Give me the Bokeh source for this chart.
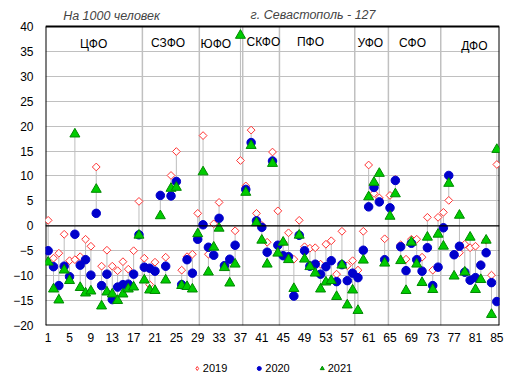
from bokeh.plotting import figure
from bokeh.layouts import column
from bokeh.models import Range1d, FixedTicker, Span, Label, Legend, LegendItem, ColumnDataSource
from bokeh.embed import file_html
from bokeh.resources import INLINE
import numpy as np

# ---- data ----
region_no = list(range(1, 86))
v2019 = [1.1, -6.5, -5.5, -1.7, -7.0, -6.8, -6.2, -2.7, -4.1, 11.8,
         -8.1, -4.9, -8.1, -9.0, -7.2, -8.7, -5.0, 4.9, -6.5, -11.8,
         -7.3, 6.2, -6.3, 10.1, 14.9, -8.9, -6.2, -5.7, 2.5, 18.1,
         -5.7, 0.4, 4.7, -8.0, -6.7, -1.0, 13.1, 8.0, 19.2, 2.5,
         0.1, -3.3, 14.8, 3.0, -3.3, -1.4, -6.7, 1.1, -4.2, -4.5,
         -4.4, -7.7, -3.7, -3.0, -9.7, -1.1, -8.0, -7.0, -8.9, -1.1,
         12.2, 6.5, 5.6, -2.6, 6.1, 9.3, -3.8, -6.7, -2.7, -2.7,
         -6.3, 1.7, -8.9, 1.7, 2.7, 5.1, -5.9, -5.4, -3.7, -4.4,
         -4.1, -7.8, -2.9, -9.9, 12.3]
v2020 = [-5.0, -8.2, -12.0, -8.1, -10.2, -1.7, -7.9, -6.8, -9.9, 2.5,
         -12.0, -9.7, -14.8, -12.3, -11.8, -11.7, -9.7, -1.8, -8.3, -8.5,
         -9.1, 6.1, -8.1, 6.0, 8.9, -11.8, -6.8, -9.5, -2.7, 0.2,
         -4.3, -5.9, 1.5, -8.0, -6.7, -3.9, 127.0, 7.3, 16.7, 1.0,
         -0.3, -5.3, 13.0, -3.9, -6.0, -6.2, -14.1, -1.9, -5.0, -8.1,
         -7.7, -9.7, -8.2, -7.0, -11.2, -7.8, -11.0, -9.5, -10.4, -4.9,
         3.8, 7.7, 4.8, -6.8, 3.6, 9.1, -4.2, -9.0, -3.5, -6.8,
         -9.1, -4.4, -12.0, -8.3, -0.4, 10.1, -5.8, -4.1, -9.3, -10.9,
         -10.4, -7.9, -5.4, -11.4, -15.2]
v2021 = [-7.3, -12.7, -14.9, -8.9, -11.0, 18.4, -12.4, -13.5, -13.1, 7.3,
         -16.1, -13.3, -13.7, -15.0, -13.7, -12.7, -12.3, -1.9, -10.9, -12.9,
         -13.0, 2.0, -10.9, 7.5, 7.7, -12.0, -12.2, -12.7, -1.6, 10.8,
         -9.3, -4.3, -0.5, -8.4, -11.5, -7.7, 38.2, 6.7, 16.1, 0.6,
         -2.9, -7.7, 12.5, -5.5, -3.3, -6.8, -12.6, -1.9, -6.7, -8.2,
         -9.5, -12.7, -11.3, -11.0, -14.2, -7.9, -15.9, -12.9, -17.0, -6.9,
         5.8, 8.7, 10.5, -7.5, 1.9, 6.4, -7.0, -13.0, -3.3, -7.7,
         -11.4, -2.3, -12.8, -1.7, -4.1, 8.5, -10.1, 2.1, -9.3, -2.3,
         -12.8, -10.8, -2.9, -17.8, 15.3]
district_names = ["ЦФО", "СЗФО", "ЮФО", "СКФО", "ПФО", "УФО", "СФО", "ДФО"]
district_label_x = [9.5, 23.45, 32.4, 41.3, 50.1, 61.3, 69.2, 80.8]
district_label_y = [36.5, 36.7, 36.4, 36.9, 36.9, 36.7, 36.7, 36.1]
district_borders = [18.64, 29.3, 37.42, 44.3, 58.4, 64.7, 74.5]
y_ticks = list(range(-20, 45, 5))
x_ticks = list(range(1, 86, 4))
series_names = ["2019", "2020", "2021"]
Y_MIN, Y_MAX = -20, 40
X_MIN, X_MAX = 0.5, 85.5

FONT = "Liberation Sans"
GRID = "#c0c0c0"
STY19 = dict(marker="square", angle=np.pi / 4, size=5.5, line_color="#ff3333", fill_color="white", line_width=1)
STY20 = dict(marker="circle", size=8.5, line_color="#0000cc", fill_color="#0000cc")
STY21 = dict(marker="triangle", size=10, line_color="#008800", fill_color="#00cc00", line_width=1)

# y-range is extended above 40 so the headline texts sit inside the frame
p = figure(width=505, height=355, x_range=Range1d(X_MIN, X_MAX), y_range=Range1d(Y_MIN, 45),
           output_backend="svg", toolbar_location=None,
           min_border_left=45, min_border_right=6, min_border_top=1, min_border_bottom=30)
p.background_fill_color = "white"
p.border_fill_color = "white"
p.outline_line_color = None

# axes
p.xaxis.ticker = FixedTicker(ticks=x_ticks)
p.yaxis.ticker = FixedTicker(ticks=y_ticks)
for ax in (p.xaxis, p.yaxis):
    ax.axis_line_color = None
    ax.major_tick_line_color = None
    ax.minor_tick_line_color = None
    ax.major_tick_in = 0
    ax.major_tick_out = 0
    ax.minor_tick_in = 0
    ax.minor_tick_out = 0
    ax.major_label_text_font = FONT
    ax.major_label_text_font_size = "12px"
    ax.major_label_text_color = "black"
p.yaxis.major_label_standoff = 12
p.xaxis.major_label_standoff = 7

p.xgrid.visible = False
p.ygrid.ticker = FixedTicker(ticks=y_ticks[:-1])
p.ygrid.grid_line_color = GRID
p.ygrid.grid_line_width = 1

# district borders
nb = len(district_borders)
p.segment(x0=district_borders, y0=[Y_MIN] * nb, x1=district_borders, y1=[Y_MAX] * nb,
          line_color=GRID, line_width=1.5)
p.add_layout(Span(location=0, dimension="width", line_color="black", line_width=1.3))

# connectors
arr = np.array([v2019, v2020, v2021])
src_seg = ColumnDataSource(dict(x=region_no, y0=arr.min(axis=0),
                                y1=np.minimum(arr.max(axis=0), Y_MAX)))
p.segment(x0="x", y0="y0", x1="x", y1="y1", source=src_seg, line_color="#bdbdbd", line_width=1)

# plot box (frame up to 40)
p.segment(x0=[X_MIN, X_MAX, X_MIN, X_MIN], y0=[Y_MIN, Y_MIN, Y_MAX, Y_MIN],
          x1=[X_MIN, X_MAX, X_MAX, X_MAX], y1=[Y_MAX, Y_MAX, Y_MAX, Y_MIN],
          line_color="black", line_width=2)

src = ColumnDataSource(dict(x=region_no, a=v2019, b=v2020, c=v2021))
p.scatter(x="x", y="a", source=src, **STY19)
p.scatter(x="x", y="b", source=src, **STY20)
p.scatter(x="x", y="c", source=src, **STY21)

# district labels
for name, lx, ly in zip(district_names, district_label_x, district_label_y):
    p.add_layout(Label(x=lx, y=ly, text=name, text_font=FONT, text_font_size="12px",
                       text_align="center", text_baseline="middle", text_color="black"))

# headline texts
p.add_layout(Label(x=3.8, y=42.1, text="На 1000 человек", text_font=FONT, text_font_size="12.5px",
                   text_font_style="italic", text_align="left", text_baseline="middle"))
p.add_layout(Label(x=38.9, y=42.3, text="г. Севастополь - 127", text_font=FONT, text_font_size="12.5px",
                   text_font_style="italic", text_align="left", text_baseline="middle"))

# legend strip below the chart (legend renderers hold one point outside the visible range)
pl = figure(width=505, height=26, x_range=Range1d(0, 1), y_range=Range1d(0, 1),
            output_backend="svg", toolbar_location=None,
            min_border_left=28, min_border_right=0, min_border_top=0, min_border_bottom=0)
pl.axis.visible = False
pl.grid.visible = False
pl.outline_line_color = None
pl.border_fill_color = "white"
pl.background_fill_color = "white"
e = dict(x=[-5], y=[-5])
l19 = pl.scatter(**e, marker="diamond", size=6, line_color="#ff3333", fill_color="white", line_width=1)
l20 = pl.scatter(**e, **STY20)
l21 = pl.scatter(**e, **STY21)
legend = Legend(items=[LegendItem(label=series_names[0], renderers=[l19]),
                       LegendItem(label=series_names[1], renderers=[l20]),
                       LegendItem(label=series_names[2], renderers=[l21])],
                orientation="horizontal", location="center",
                glyph_width=10, glyph_height=12, label_standoff=1, spacing=27,
                padding=0, margin=0, border_line_color=None, background_fill_alpha=0,
                label_text_font=FONT, label_text_font_size="11px", label_text_color="black")
pl.add_layout(legend, "center")

open("out.html", "w").write(file_html(column(p, pl, spacing=0), INLINE))
